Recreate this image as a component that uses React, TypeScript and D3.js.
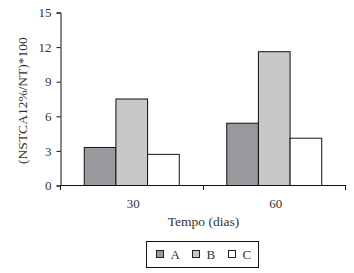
import * as d3 from "d3";
import { useEffect, useRef } from "react";

const days = ["30", "60"];
const seriesNames = ["A", "B", "C"];
const valuesA = [3.3, 5.4];
const valuesB = [7.5, 11.6];
const valuesC = [2.7, 4.1];
const yTicks = [0, 3, 6, 9, 12, 15];
const colors = ["#9a999d", "#c8c8ca", "#ffffff"];

export default function App() {
  const svgRef = useRef<SVGSVGElement | null>(null);

  useEffect(() => {
    const svg = d3.select(svgRef.current);
    svg.selectAll("*").remove();

    const width = 354;
    const height = 273;
    const margin = { top: 12, right: 9, bottom: 88, left: 60 };
    const font = "'Liberation Serif', 'Times New Roman', serif";
    const textColor = "#333";

    const x0 = d3
      .scaleBand()
      .domain(days)
      .range([margin.left, width - margin.right])
      .padding(0);
    const x1 = d3
      .scaleBand()
      .domain(seriesNames)
      .range([0, x0.bandwidth()])
      .paddingInner(0)
      .paddingOuter(0.75);
    const y = d3
      .scaleLinear()
      .domain([0, 15])
      .range([height - margin.bottom, margin.top]);

    const series = [valuesA, valuesB, valuesC];

    // Bars
    days.forEach((day, i) => {
      const g = svg.append("g").attr("transform", `translate(${x0(day)},0)`);
      seriesNames.forEach((name, j) => {
        const v = series[j][i];
        g.append("rect")
          .attr("x", (x1(name) ?? 0) + 0.5)
          .attr("y", y(v) + 0.5)
          .attr("width", x1.bandwidth())
          .attr("height", y(0) - y(v))
          .attr("fill", colors[j])
          .attr("stroke", "#111")
          .attr("stroke-width", 1);
      });
    });

    // y axis
    const yAxis = d3.axisLeft(y).tickValues(yTicks).tickSize(4).tickPadding(5);
    const yg = svg
      .append("g")
      .attr("transform", `translate(${margin.left + 0.5},0.5)`)
      .call(yAxis);
    yg.select(".domain").attr("stroke", "#111");
    yg.selectAll(".tick line").attr("stroke", "#111");
    yg.selectAll(".tick text")
      .attr("font-family", font)
      .attr("font-size", 13)
      .attr("fill", textColor);

    // x axis with boundary ticks
    const xLine = svg.append("g");
    xLine
      .append("line")
      .attr("x1", margin.left + 0.5)
      .attr("x2", width - margin.right + 0.5)
      .attr("y1", y(0) + 0.5)
      .attr("y2", y(0) + 0.5)
      .attr("stroke", "#111");
    const bounds = [
      ...days.map((d) => x0(d) ?? 0),
      (x0(days[days.length - 1]) ?? 0) + x0.bandwidth(),
    ];
    bounds.forEach((b) => {
      xLine
        .append("line")
        .attr("x1", Math.round(b) + 0.5)
        .attr("x2", Math.round(b) + 0.5)
        .attr("y1", y(0))
        .attr("y2", y(0) + 5)
        .attr("stroke", "#111");
    });
    days.forEach((d) => {
      svg
        .append("text")
        .attr("x", (x0(d) ?? 0) + x0.bandwidth() / 2 + 2)
        .attr("y", y(0) + 23)
        .attr("text-anchor", "middle")
        .attr("font-family", font)
        .attr("font-size", 13)
        .attr("fill", textColor)
        .text(d);
    });

    // Axis titles
    svg
      .append("text")
      .attr("x", (margin.left + width - margin.right) / 2 + 1)
      .attr("y", 226)
      .attr("text-anchor", "middle")
      .attr("font-family", font)
      .attr("font-size", 13.5)
      .attr("fill", textColor)
      .text("Tempo (dias)");
    svg
      .append("text")
      .attr("transform", `translate(27,${(y(0) + y(15)) / 2 + 2}) rotate(-90)`)
      .attr("text-anchor", "middle")
      .attr("font-family", font)
      .attr("font-size", 13.5)
      .attr("fill", textColor)
      .text("(NSTCA12%/NT)*100");

    // Legend
    const legend = svg.append("g").attr("transform", "translate(146.5,241.5)");
    legend
      .append("rect")
      .attr("width", 112)
      .attr("height", 26)
      .attr("fill", "none")
      .attr("stroke", "#111");
    seriesNames.forEach((name, j) => {
      const lx = 10 + j * 36;
      legend
        .append("rect")
        .attr("x", lx)
        .attr("y", 9)
        .attr("width", 7)
        .attr("height", 7)
        .attr("fill", colors[j])
        .attr("stroke", "#222");
      legend
        .append("text")
        .attr("x", lx + 14)
        .attr("y", 17.5)
        .attr("font-family", font)
        .attr("font-size", 13)
        .attr("fill", textColor)
        .text(name);
    });
  }, []);

  return (
    <svg
      ref={svgRef}
      width={354}
      height={273}
      style={{ position: "absolute", left: 0, top: 0, background: "#fff" }}
    ></svg>
  );
}
